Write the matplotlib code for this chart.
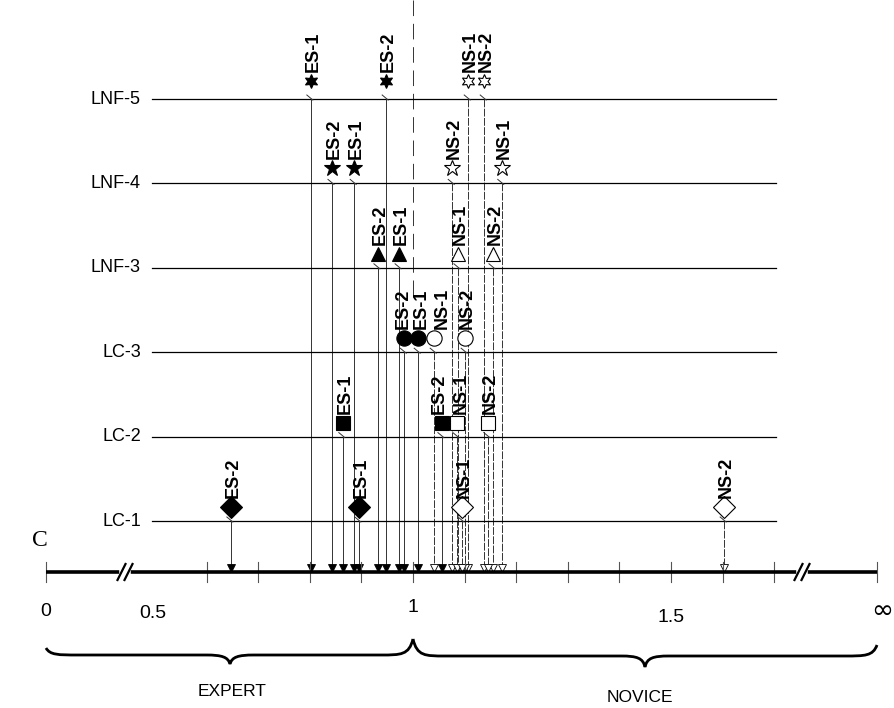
import numpy as np
import matplotlib.pyplot as plt
from matplotlib.path import Path
from matplotlib.patches import PathPatch

# rows (top to bottom) and marker style per row
rows = ['LNF-5', 'LNF-4', 'LNF-3', 'LC-3', 'LC-2', 'LC-1']
row_markers = [(6, 1, 0), '*', '^', 'o', 's', 'D']

es1 = [0.802, 0.886, 0.973, 1.010, 0.864, 0.895]
es2 = [0.948, 0.843, 0.932, 0.983, 1.056, 0.647]
ns1 = [1.107, 1.172, 1.087, 1.041, 1.085, 1.095]
ns2 = [1.138, 1.076, 1.155, 1.101, 1.145, 1.603]

tick_vals = [0.6, 0.7, 0.8, 0.9, 1.0, 1.1, 1.2, 1.3, 1.4, 1.5, 1.6, 1.7]

# pixel <-> value mapping (1 at 413 px, 0.1 per 51.6 px)
def v(px):
    return 1 + (px - 413) / 516.0

def dv(dpx):
    return dpx / 516.0

x_zero = v(46)
x_inf = v(877)

fig = plt.figure(figsize=(8.94, 7.08), dpi=100)
ax = fig.add_axes([0, 0, 1, 1])
ax.set_xlim(v(0), v(894))
ax.set_ylim(708, 0)
ax.axis('off')

plt.rcParams['font.family'] = ['Liberation Sans', 'DejaVu Sans']

row_top = 99
row_gap = 84.4
axis_y = 572

# dashed line at 1
ax.plot([1.0, 1.0], [0, 300], color='#333333', lw=0.7, ls=(0, (16, 8)))

series = [('ES-1', es1, True), ('ES-2', es2, True), ('NS-1', ns1, False), ('NS-2', ns2, False)]
sizes = [10, 12, 10, 11, 10, 11]
lift = [18, 15, 14, 14, 14, 14]
# nudge crowded labels sideways (pixels)
nudge = {(3, 'ES-2'): -3, (3, 'ES-1'): 1, (3, 'NS-1'): 6, (4, 'ES-2'): -5, (4, 'NS-1'): 2}

for i, (row, mk) in enumerate(zip(rows, row_markers)):
    y = row_top + i * row_gap
    ax.plot([v(152), v(776)], [y, y], color='black', lw=0.9)
    ax.text(v(141), y, row, ha='right', va='center', fontsize=13)
    for name, vals, filled in series:
        x = vals[i]
        my = y - lift[i]
        ax.plot([x, x], [y, axis_y - 4], color='#333333', lw=0.7,
                ls='-' if filled else (0, (8, 1.5)))
        # small leader slash from marker to its row line
        ax.plot([x - dv(4), x + dv(2)], [y - 4, y + 1], color='#333333', lw=0.7)
        ax.plot(x, my, marker=mk, ms=sizes[i], mfc='black' if filled else 'white',
                mec='black', mew=0.8, ls='none')
        ax.plot(x, axis_y - 4, marker='v', ms=5.5, mfc='black' if filled else 'white',
                mec='black', mew=0.6, ls='none')
        ax.text(x + dv(2 + nudge.get((i, name), 0)), my - 9, name, rotation=90,
                ha='center', va='bottom', fontsize=13, fontweight='bold', linespacing=1.0)

# axis line with breaks
ax.plot([x_zero, x_inf], [axis_y, axis_y], color='black', lw=2.6, solid_capstyle='butt', zorder=3)
for t in tick_vals + [x_zero, x_inf]:
    ax.plot([t, t], [axis_y - 10, axis_y + 10], color='#555555', lw=0.8, zorder=2)
for bx in [v(125), v(802)]:
    ax.plot([bx - dv(3), bx + dv(3)], [axis_y, axis_y], color='white', lw=4, zorder=4)
    for dx in [-3.5, 3.5]:
        ax.plot([bx + dv(dx - 4), bx + dv(dx + 4)],
                [axis_y + 8, axis_y - 8], color='black', lw=1.6, zorder=5)

# tick labels
ax.text(x_zero, 612, '0', ha='center', va='center', fontsize=14)
ax.text(v(153), 613, '0.5', ha='center', va='center', fontsize=14)
ax.text(1.0, 607, '1', ha='center', va='center', fontsize=14)
ax.text(1.5, 617, '1.5', ha='center', va='center', fontsize=14)
ax.text(v(882), 611, '\u221e', ha='center', va='center', fontsize=19, family='DejaVu Sans')

ax.text(v(40), 541, 'C', ha='center', va='center', fontsize=17, family='Liberation Serif')


def brace(x0, x1, xm, yb, yend_l, yend_r, ytip):
    k = dv(20)
    verts = [(x0, yend_l), (x0 + k * 0.2, yb), (x0 + k * 0.6, yb), (x0 + k * 1.6, yb),
             (xm - k * 1.2, yb), (xm - k * 0.4, yb), (xm - k * 0.1, yb + 2), (xm, ytip),
             (xm + k * 0.1, yb + 2), (xm + k * 0.4, yb), (xm + k * 1.2, yb),
             (x1 - k * 1.6, yb), (x1 - k * 0.6, yb), (x1 - k * 0.2, yb), (x1, yend_r)]
    codes = [Path.MOVETO, Path.CURVE4, Path.CURVE4, Path.CURVE4,
             Path.LINETO, Path.CURVE4, Path.CURVE4, Path.CURVE4,
             Path.CURVE4, Path.CURVE4, Path.CURVE4,
             Path.LINETO, Path.CURVE4, Path.CURVE4, Path.CURVE4]
    ax.add_patch(PathPatch(Path(verts, codes), fc='none', ec='black', lw=2.0))


brace(x_zero, 1.0, v(230), 655, 648, 639, 664)
brace(1.0, x_inf, v(645), 656, 639, 645, 667)

ax.text(v(232), 692, 'EXPERT', ha='center', va='center', fontsize=12.5)
ax.text(v(640), 697, 'NOVICE', ha='center', va='center', fontsize=12.5)

fig.savefig('out.png', dpi=100)
